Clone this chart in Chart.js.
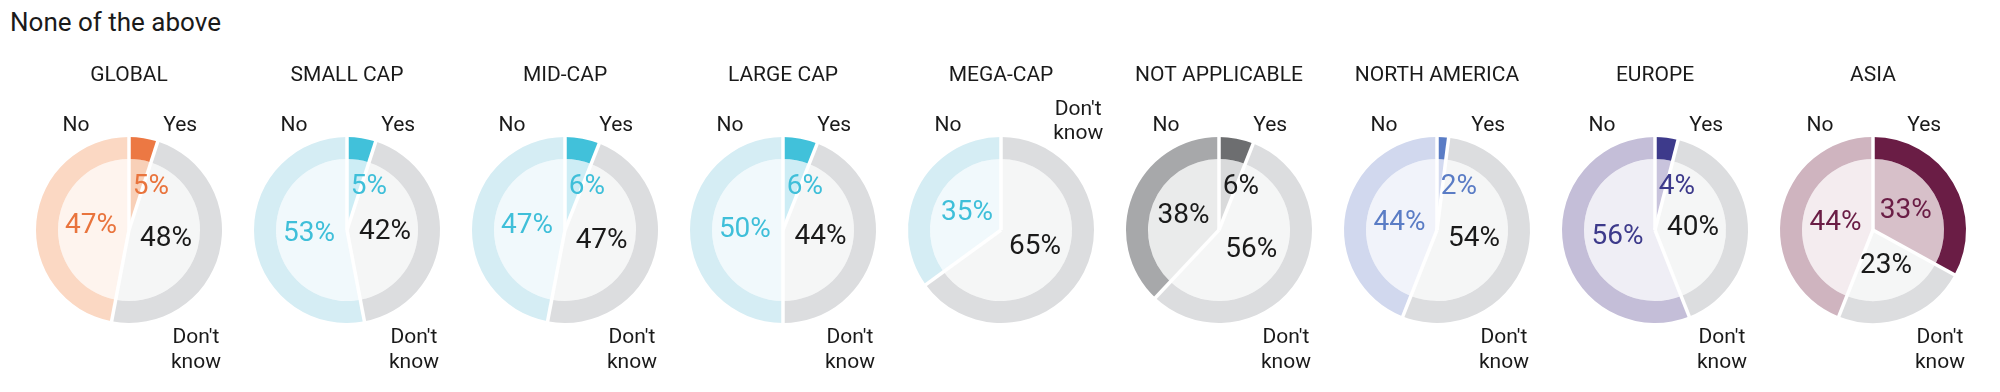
<!DOCTYPE html>
<html>
<head>
<meta charset="utf-8">
<title>None of the above</title>
<script src="https://cdn.jsdelivr.net/npm/chart.js@4.4.1/dist/chart.umd.min.js"></script>
<style>
  html, body { margin: 0; padding: 0; background: #fff; }
  body { width: 2000px; height: 392px; position: relative; overflow: hidden; font-family: Roboto, "Noto Sans", sans-serif; }
  h1 { position: absolute; left: 10px; top: 9px; margin: 0; font-size: 26px; line-height: 26px; font-weight: 400; color: #1a1a1a; z-index: 2; }
  .donut { position: absolute; top: 40px; }
</style>
</head>
<body>
<h1>None of the above</h1>
<div id="charts"></div>
<script>
// --- DATA ---
const CATEGORIES = ['GLOBAL', 'SMALL CAP', 'MID-CAP', 'LARGE CAP', 'MEGA-CAP', 'NOT APPLICABLE', 'NORTH AMERICA', 'EUROPE', 'ASIA'];
const YES        = [5, 5, 6, 6, 0, 6, 2, 4, 33];
const DONT_KNOW  = [48, 42, 47, 44, 65, 56, 54, 40, 23];
const NO         = [47, 53, 47, 50, 35, 38, 44, 56, 44];
const ANSWERS    = ['Yes', "Don't know", 'No'];

// --- COLOURS ---
const DK_RING = '#DCDDDF';
const DK_INNER = '#F5F6F6';
const INK = '#1a1a1a';

const ORANGE = { main: '#EC7843', ring: '#FBD8C3', yesIn: '#F8D0B8', noIn: '#FEF4EE', text: '#E9743D' };
const CYAN   = { main: '#41C1DA', ring: '#D5EDF4', yesIn: '#CDEDF5', noIn: '#F1F9FC', text: '#3FBFD9' };
const GREY   = { main: '#6D6E70', ring: '#A7A8AA', yesIn: '#D9DADB', noIn: '#EAEBEB', text: INK };
const NAMER  = { main: '#5A7CC5', ring: '#D1D8EE', yesIn: '#D3DAF0', noIn: '#F1F3FA', text: '#5A7CC5' };
const EURO   = { main: '#3D3A8B', ring: '#C4BED8', yesIn: '#C8C3DC', noIn: '#EFEEF5', text: '#3D3A8B' };
const ASIA   = { main: '#6A1D45', ring: '#CFB4BF', yesIn: '#D7C0C9', noIn: '#F4ECEF', text: '#6A1D45' };
const THEMES = [ORANGE, CYAN, CYAN, CYAN, CYAN, GREY, NAMER, EURO, ASIA];

const FONT = 'Roboto, "Noto Sans", sans-serif';

// --- PLUGIN: separators + text round the donut ---
const donutText = {
    id: 'donutText',
    afterDatasetsDraw(chart, args, opts) {
        const ctx = chart.ctx;
        const ring = chart.getDatasetMeta(0).data;
        const pie = chart.getDatasetMeta(1).data;
        const cx = ring[0].x, cy = ring[0].y, R = ring[0].outerRadius;
        const values = chart.data.datasets[0].data;

        ctx.save();
        // white cuts between slices
        ctx.strokeStyle = '#fff';
        ctx.lineWidth = 3.5;
        ring.forEach(arc => {
            if (arc.circumference <= 0) return;
            ctx.beginPath();
            ctx.moveTo(cx, cy);
            ctx.lineTo(cx + Math.cos(arc.startAngle) * (R + 2), cy + Math.sin(arc.startAngle) * (R + 2));
            ctx.stroke();
        });

        // percentages
        ctx.textAlign = 'center';
        ctx.textBaseline = 'middle';
        ctx.font = `400 28px ${FONT}`;
        pie.forEach((arc, k) => {
            const v = values[k];
            if (!v) return;
            let a, r;
            if (v < 10) { a = arc.startAngle + 0.47; r = 0.52 * R; }
            else { a = (arc.startAngle + arc.endAngle) / 2; r = 0.41 * R; }
            ctx.fillStyle = k === 1 ? INK : opts.theme.text;
            ctx.fillText(v + '%', cx + Math.cos(a) * r, cy + Math.sin(a) * r);
        });

        // answer names
        ctx.font = `400 21px ${FONT}`;
        ctx.fillStyle = INK;
        const dk = ANSWERS[1].split(' ');
        if (values[0] > 0) {
            ctx.fillText(ANSWERS[0], cx + 0.55 * R, cy - 1.12 * R);
            ctx.fillText(dk[0], cx + 0.72 * R, cy + 1.16 * R);
            ctx.fillText(dk[1], cx + 0.72 * R, cy + 1.43 * R);
        } else {
            ctx.fillText(dk[0], cx + 0.83 * R, cy - 1.29 * R);
            ctx.fillText(dk[1], cx + 0.83 * R, cy - 1.04 * R);
        }
        ctx.fillText(ANSWERS[2], cx - 0.57 * R, cy - 1.12 * R);
        ctx.restore();
    }
};

// --- BUILD ---
function buildDonut(i) {
    const theme = THEMES[i];
    const canvas = document.createElement('canvas');
    canvas.className = 'donut';
    canvas.width = 218;
    canvas.height = 352;
    canvas.style.left = (20 + 218 * i) + 'px';
    document.getElementById('charts').appendChild(canvas);

    const values = [YES[i], DONT_KNOW[i], NO[i]];

    new Chart(canvas, {
        type: 'doughnut',
        data: {
            labels: ANSWERS,
            datasets: [
                { data: values, backgroundColor: [theme.main, DK_RING, theme.ring], borderWidth: 0, weight: 22 },
                { data: values, backgroundColor: [theme.yesIn, DK_INNER, theme.noIn], borderWidth: 0, weight: 71 }
            ]
        },
        options: {
            responsive: false,
            animation: false,
            cutout: 0,
            hoverOffset: 0,
            events: [],
            layout: { padding: { top: 0, bottom: 69, left: 16, right: 16 } },
            plugins: {
                legend: { display: false },
                tooltip: { enabled: false },
                title: {
                    display: true,
                    text: CATEGORIES[i],
                    color: INK,
                    font: { family: FONT, size: 21, weight: 'normal', lineHeight: 1.2 },
                    padding: { top: 23, bottom: 48.8 }
                },
                donutText: { theme: theme }
            }
        },
        plugins: [donutText]
    });
}

CATEGORIES.forEach((c, i) => buildDonut(i));
</script>
</body>
</html>
